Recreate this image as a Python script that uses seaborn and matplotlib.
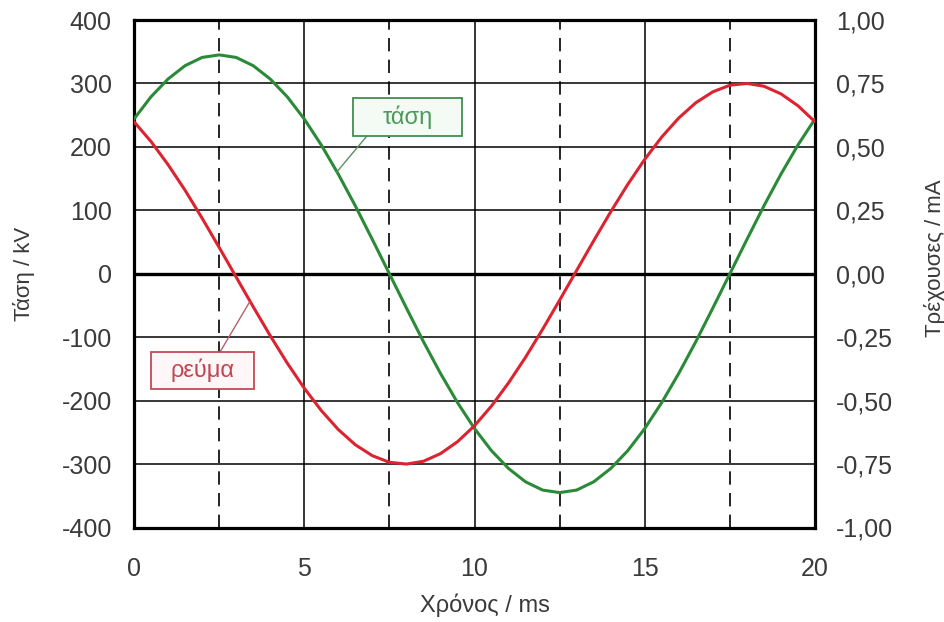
import matplotlib
matplotlib.use("Agg")
import matplotlib.pyplot as plt
import seaborn as sns
import pandas as pd
from matplotlib.patches import Rectangle
from matplotlib.ticker import FuncFormatter, FixedLocator

# ---------------- data ----------------
time_ms = [0.0, 0.5, 1.0, 1.5, 2.0, 2.5, 3.0, 3.5, 4.0, 4.5,
           5.0, 5.5, 6.0, 6.5, 7.0, 7.5, 8.0, 8.5, 9.0, 9.5,
           10.0, 10.5, 11.0, 11.5, 12.0, 12.5, 13.0, 13.5, 14.0, 14.5,
           15.0, 15.5, 16.0, 16.5, 17.0, 17.5, 18.0, 18.5, 19.0, 19.5, 20.0]
voltage_kv = [244, 279, 307, 328, 341, 345, 341, 328, 307, 279,
              244, 203, 157, 107, 54, 0, -54, -107, -157, -203,
              -244, -279, -307, -328, -341, -345, -341, -328, -307, -279,
              -244, -203, -157, -107, -54, 0, 54, 107, 157, 203, 244]
current_ma = [0.599, 0.521, 0.430, 0.329, 0.219, 0.104, -0.013, -0.130, -0.244, -0.352,
              -0.451, -0.539, -0.614, -0.674, -0.717, -0.743, -0.750, -0.739, -0.709, -0.662,
              -0.599, -0.521, -0.430, -0.329, -0.219, -0.104, 0.013, 0.130, 0.244, 0.352,
              0.451, 0.539, 0.614, 0.674, 0.717, 0.743, 0.750, 0.739, 0.709, 0.662, 0.599]

x_ticks = [0, 5, 10, 15, 20]
x_dashed = [2.5, 7.5, 12.5, 17.5]
y_left_ticks = [-400, -300, -200, -100, 0, 100, 200, 300, 400]
y_right_ticks = [-1.0, -0.75, -0.5, -0.25, 0.0, 0.25, 0.5, 0.75, 1.0]

x_label = "Χρόνος / ms"
y_left_label = "Τάση / kV"
y_right_label = "Τρέχουσες / mA"
voltage_name = "τάση"
current_name = "ρεύμα"

GREEN = "#2a8a38"
RED = "#dc2430"
TXT = "#3a3a3a"

df = pd.DataFrame({"t": time_ms, "v": voltage_kv, "i": current_ma})

sns.set_style("white")
plt.rcParams["font.family"] = ["Liberation Sans", "DejaVu Sans"]
plt.rcParams["axes.unicode_minus"] = False

fig = plt.figure(figsize=(9.45, 6.22), dpi=100)
ax = fig.add_axes([134 / 945, 1 - 527.5 / 622, 681 / 945, 507.5 / 622])
ax2 = ax.twinx()

sns.lineplot(data=df, x="t", y="v", ax=ax, color=GREEN, linewidth=2.2, zorder=3,
             solid_joinstyle="round")
sns.lineplot(data=df, x="t", y="i", ax=ax2, color=RED, linewidth=2.2, zorder=3,
             solid_joinstyle="round")

ax.set_xlim(0, 20)
ax.set_ylim(-400, 400)
ax2.set_ylim(-1, 1)

ax.xaxis.set_major_locator(FixedLocator(x_ticks))
ax.xaxis.set_minor_locator(FixedLocator(x_dashed))
ax.yaxis.set_major_locator(FixedLocator(y_left_ticks))
ax2.yaxis.set_major_locator(FixedLocator(y_right_ticks))
ax2.yaxis.set_major_formatter(FuncFormatter(lambda v, p: f"{v:.2f}".replace(".", ",")))

ax.grid(which="major", color="black", linewidth=1.1)
ax.grid(which="minor", axis="x", color="black", linewidth=1.2, linestyle=(0, (8, 5)))
ax.axhline(0, color="black", linewidth=2.4, zorder=2)
ax.set_axisbelow(True)

for s in ax.spines.values():
    s.set_visible(True)
    s.set_color("black")
    s.set_linewidth(2.3)
for s in ax2.spines.values():
    s.set_visible(False)

ax.tick_params(axis="both", which="both", length=0, labelsize=18, labelcolor=TXT)
ax.tick_params(axis="y", pad=16)
ax.tick_params(axis="x", pad=21)
ax2.tick_params(axis="y", length=0, labelsize=18, labelcolor=TXT, pad=15)

ax.set_xlabel(x_label, fontsize=17, color=TXT)
ax.set_ylabel(y_left_label, fontsize=16, color=TXT)
ax2.set_ylabel(y_right_label, fontsize=16, color=TXT)
ax.xaxis.set_label_coords(0.515, -0.13)
ax.yaxis.set_label_coords(-0.146, 0.5)
ax2.yaxis.set_label_coords(1.16, 0.53)

# voltage callout
ax.add_patch(Rectangle((0.3216, 0.7714), 0.160, 0.0749, transform=ax.transAxes,
                       facecolor="#f4fbf4", edgecolor="#3f8f4f", linewidth=1.3, zorder=6))
ax.text(0.4016, 0.8089, voltage_name, transform=ax.transAxes, ha="center", va="center",
        color="#4a9a5a", fontsize=17, zorder=7)
ax.annotate("", xy=(5.95, 160), xycoords="data", xytext=(0.342, 0.7714),
            textcoords="axes fraction",
            arrowprops=dict(arrowstyle="-", color="#5a8f62", lw=1.0, shrinkA=0, shrinkB=0),
            zorder=5)

# current callout
ax2.add_patch(Rectangle((0.025, 0.2729), 0.1512, 0.0729, transform=ax2.transAxes,
                        facecolor="#fff7f7", edgecolor="#c24a58", linewidth=1.3, zorder=6))
ax2.text(0.1006, 0.3094, current_name, transform=ax2.transAxes, ha="center", va="center",
         color="#c04452", fontsize=17, zorder=7)
ax2.annotate("", xy=(3.4, -0.11), xycoords="data", xytext=(0.1263, 0.3458),
             textcoords="axes fraction",
             arrowprops=dict(arrowstyle="-", color="#b5606a", lw=1.0, shrinkA=0, shrinkB=0),
             zorder=5)

fig.savefig("out.png", dpi=100, facecolor="white")
